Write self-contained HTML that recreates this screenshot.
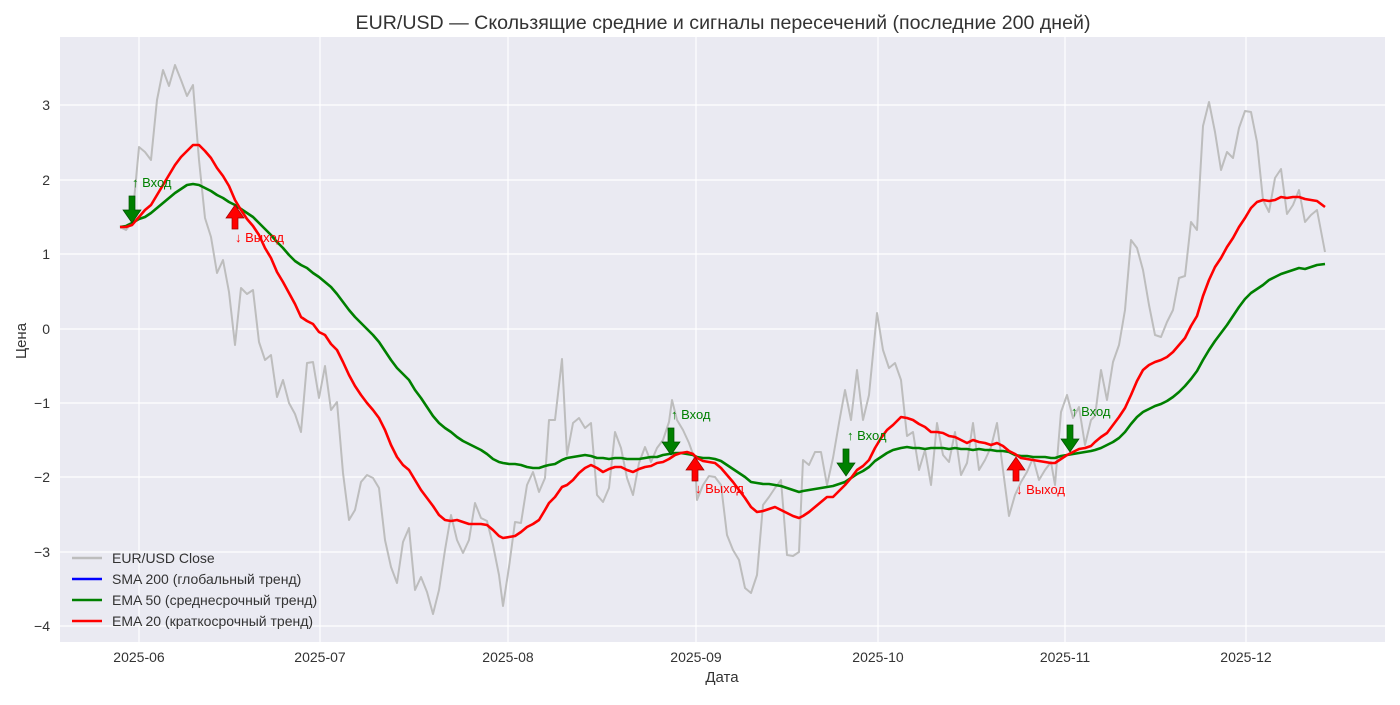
<!DOCTYPE html>
<html><head><meta charset="utf-8"><style>
body{margin:0;background:#fff;}
svg text{font-family:"Liberation Sans","DejaVu Sans",sans-serif;}
</style></head><body>
<svg width="1400" height="700" xmlns="http://www.w3.org/2000/svg">
<rect width="1400" height="700" fill="#fff"/>
<rect x="60" y="37" width="1325" height="605" fill="#eaeaf2"/>
<g stroke="#fff" stroke-width="1.2">
<line x1="139" y1="37" x2="139" y2="642"/><line x1="320" y1="37" x2="320" y2="642"/><line x1="508" y1="37" x2="508" y2="642"/><line x1="696" y1="37" x2="696" y2="642"/><line x1="878" y1="37" x2="878" y2="642"/><line x1="1065" y1="37" x2="1065" y2="642"/><line x1="1246" y1="37" x2="1246" y2="642"/>
<line x1="60" y1="105" x2="1385" y2="105"/><line x1="60" y1="180" x2="1385" y2="180"/><line x1="60" y1="254" x2="1385" y2="254"/><line x1="60" y1="329" x2="1385" y2="329"/><line x1="60" y1="403" x2="1385" y2="403"/><line x1="60" y1="477" x2="1385" y2="477"/><line x1="60" y1="552" x2="1385" y2="552"/><line x1="60" y1="626" x2="1385" y2="626"/>
</g>
<g font-size="14" fill="#333" text-anchor="end">
<text x="50" y="110">3</text><text x="50" y="185">2</text><text x="50" y="259">1</text><text x="50" y="334">0</text><text x="50" y="408">−1</text><text x="50" y="482">−2</text><text x="50" y="557">−3</text><text x="50" y="631">−4</text>
</g>
<g font-size="14" fill="#333" text-anchor="middle">
<text x="139" y="662">2025-06</text><text x="320" y="662">2025-07</text><text x="508" y="662">2025-08</text><text x="696" y="662">2025-09</text><text x="878" y="662">2025-10</text><text x="1065" y="662">2025-11</text><text x="1246" y="662">2025-12</text>
<text x="722" y="682" font-size="15">Дата</text>
<text x="723" y="29" font-size="19.6">EUR/USD — Скользящие средние и сигналы пересечений (последние 200 дней)</text>
</g>
<text transform="translate(26,341) rotate(-90)" font-size="15" fill="#333" text-anchor="middle">Цена</text>
<polyline fill="none" stroke="#bdbdbd" stroke-width="2" stroke-linejoin="round" points="120,227 126,230 132,222 139,147 145,152 151,160 157,100 163,70 169,86 175,65 181,80 187,96 193,85 199,160 205,218 211,237 217,273 223,260 229,292 235,345 241,288 247,294 253,290 259,342 265,360 271,355 277,397 283,380 289,403 295,414 301,432 307,363 313,362 319,398 325,366 331,410 337,402 343,473 349,520 355,510 361,482 367,475 373,478 379,488 385,540 391,567 397,583 403,542 409,528 415,590 421,577 427,592 433,614 439,590 445,550 451,515 457,540 463,553 469,540 475,503 481,518 487,521 493,545 499,575 503,606 509,567 515,522 521,523 527,485 533,472 539,492 545,478 549,420 555,420 562,359 567,455 573,423 579,418 585,428 591,423 597,495 603,502 609,488 615,432 621,448 627,478 633,495 639,463 645,447 651,462 657,448 663,440 669,422 672,400 677,420 683,430 689,443 695,460 697,500 703,485 709,476 715,477 721,485 727,535 733,550 739,560 745,588 751,593 757,575 763,505 769,497 775,488 781,480 787,555 793,556 799,552 803,460 809,465 815,452 821,452 827,485 833,458 839,423 845,390 851,420 857,370 863,420 869,395 877,313 883,350 889,368 895,363 901,380 907,436 913,432 919,470 925,450 931,485 937,423 943,455 949,462 955,432 961,475 967,463 973,423 979,470 985,460 991,447 997,423 1003,470 1009,516 1015,495 1021,482 1027,472 1033,458 1039,480 1045,470 1051,462 1055,485 1061,412 1067,395 1073,418 1079,407 1085,445 1091,420 1095,416 1101,370 1107,400 1113,362 1119,345 1125,310 1131,240 1137,248 1143,270 1149,305 1155,335 1161,337 1167,322 1173,310 1179,278 1185,276 1191,222 1197,230 1203,126 1209,102 1215,132 1221,170 1227,152 1233,158 1239,128 1245,111 1251,112 1257,142 1263,200 1269,212 1275,178 1281,169 1287,214 1293,205 1299,190 1305,222 1311,215 1317,210 1325,252"/>
<polyline fill="none" stroke="#008000" stroke-width="2.6" stroke-linejoin="round" points="120,227 126,226 132,223 139,219 145,217 151,213 157,208 163,203 169,198 175,193 181,189 187,185 193,184 199,185 205,188 211,191 217,195 223,198 229,202 235,205 241,209 247,213 253,217 259,223 265,229 271,235 277,242 283,248 289,255 295,261 301,265 307,268 313,273 319,277 325,282 331,287 337,294 343,302 349,310 355,317 361,323 367,329 373,335 379,342 385,351 391,360 397,368 403,374 409,380 415,390 421,398 427,407 433,416 439,423 445,428 451,432 457,437 463,441 469,444 475,447 481,450 487,454 493,459 499,462 503,463 509,464 515,464 521,465 527,467 533,468 539,468 545,466 549,465 555,464 562,460 567,458 573,457 579,456 585,455 591,456 597,458 603,458 609,459 615,458 621,458 627,459 633,459 639,459 645,458 651,457 657,457 663,455 669,454 675,453 681,453 687,454 693,455 697,457 703,458 709,458 715,459 721,461 727,465 733,469 739,473 745,477 751,482 757,483 763,484 769,484 775,485 781,486 787,488 793,490 799,492 803,491 809,490 815,489 821,488 827,487 833,486 839,484 845,482 851,478 857,474 863,471 869,467 875,461 881,457 887,453 893,450 901,448 907,447 913,448 919,448 925,449 931,448 937,448 943,448 949,449 955,448 961,449 967,449 973,450 979,449 985,450 991,450 997,451 1003,451 1009,452 1015,455 1021,456 1027,456 1033,457 1039,457 1045,457 1051,458 1055,458 1061,456 1067,455 1073,454 1079,453 1085,452 1091,451 1095,450 1101,448 1107,445 1113,442 1119,438 1125,432 1131,424 1137,417 1143,412 1149,409 1155,406 1161,404 1167,401 1173,397 1179,392 1185,386 1191,379 1197,371 1203,360 1209,350 1215,341 1221,333 1227,325 1233,316 1239,307 1245,299 1251,293 1257,289 1263,285 1269,280 1275,277 1281,274 1287,272 1293,270 1299,268 1305,269 1311,267 1317,265 1325,264"/>
<polyline fill="none" stroke="#ff0000" stroke-width="2.6" stroke-linejoin="round" points="120,227 126,227 132,225 139,217 145,210 151,205 157,195 163,185 169,175 175,165 181,157 187,151 193,145 199,145 205,151 211,158 217,168 223,176 229,186 235,200 241,210 247,219 253,226 259,235 265,248 271,258 277,272 283,282 289,293 295,304 301,317 307,321 313,324 319,332 325,335 331,344 337,350 343,362 349,375 355,386 361,395 367,403 373,410 379,418 385,430 391,445 397,457 403,465 409,470 415,480 421,490 427,498 433,506 439,515 445,520 451,521 457,520 463,522 469,524 475,524 481,524 487,525 493,530 499,536 503,538 509,537 515,536 521,532 527,527 533,524 539,520 545,510 549,503 555,497 562,487 567,485 573,480 579,473 585,468 591,465 597,468 603,472 609,469 615,467 621,467 627,470 633,472 639,469 645,467 651,466 657,463 663,462 669,459 675,455 681,453 687,452 693,454 697,458 703,461 709,462 715,463 721,468 727,475 733,482 739,490 745,498 751,507 757,512 763,511 769,509 775,507 781,510 787,513 793,516 799,518 803,516 809,512 815,507 821,502 827,497 833,497 839,491 845,485 851,478 857,470 863,466 869,460 875,448 881,438 887,430 893,425 901,417 907,418 913,420 919,424 925,427 931,432 937,432 943,433 949,436 955,437 961,440 967,443 973,440 979,442 985,443 991,445 997,443 1003,446 1009,451 1015,454 1021,458 1027,459 1033,460 1039,461 1045,462 1051,463 1055,463 1061,459 1067,455 1073,452 1079,449 1085,448 1091,446 1095,442 1101,437 1107,433 1113,425 1119,417 1125,408 1131,395 1137,381 1143,370 1149,365 1155,362 1161,360 1167,357 1173,352 1179,345 1185,338 1191,326 1197,316 1203,296 1209,280 1215,267 1221,258 1227,247 1233,238 1239,227 1245,218 1251,208 1257,202 1263,200 1269,201 1275,200 1281,197 1287,198 1293,197 1299,197 1305,199 1311,200 1317,201 1325,207"/>
<defs>
<path id="dn" d="M-3,-24 H3 V-10 H9 L0,3 L-9,-10 H-3 Z" fill="#008000" stroke="#005000" stroke-width="0.7"/>
<path id="up" d="M-3,14 H3 V3 H9 L0,-10 L-9,3 H-3 Z" fill="#ff0000" stroke="#a00000" stroke-width="0.7"/>
</defs>
<use href="#dn" x="132" y="220"/><use href="#dn" x="671" y="452"/><use href="#dn" x="846" y="473"/><use href="#dn" x="1070" y="449"/>
<use href="#up" x="235" y="215"/><use href="#up" x="695" y="467"/><use href="#up" x="1016" y="467"/>
<g font-size="13" fill="#008000">
<text x="132" y="187">↑ Вход</text><text x="671" y="419">↑ Вход</text><text x="847" y="440">↑ Вход</text><text x="1071" y="416">↑ Вход</text>
</g>
<g font-size="13" fill="#ff0000">
<text x="235" y="242">↓ Выход</text><text x="695" y="493">↓ Выход</text><text x="1016" y="494">↓ Выход</text>
</g>
<g font-size="14" fill="#333">
<line x1="72" y1="558" x2="102" y2="558" stroke="#bdbdbd" stroke-width="2.5"/><text x="112" y="563">EUR/USD Close</text>
<line x1="72" y1="579" x2="102" y2="579" stroke="#0000ff" stroke-width="2.5"/><text x="112" y="584">SMA 200 (глобальный тренд)</text>
<line x1="72" y1="600" x2="102" y2="600" stroke="#008000" stroke-width="2.5"/><text x="112" y="605">EMA 50 (среднесрочный тренд)</text>
<line x1="72" y1="621" x2="102" y2="621" stroke="#ff0000" stroke-width="2.5"/><text x="112" y="626">EMA 20 (краткосрочный тренд)</text>
</g>
</svg>
</body></html>
